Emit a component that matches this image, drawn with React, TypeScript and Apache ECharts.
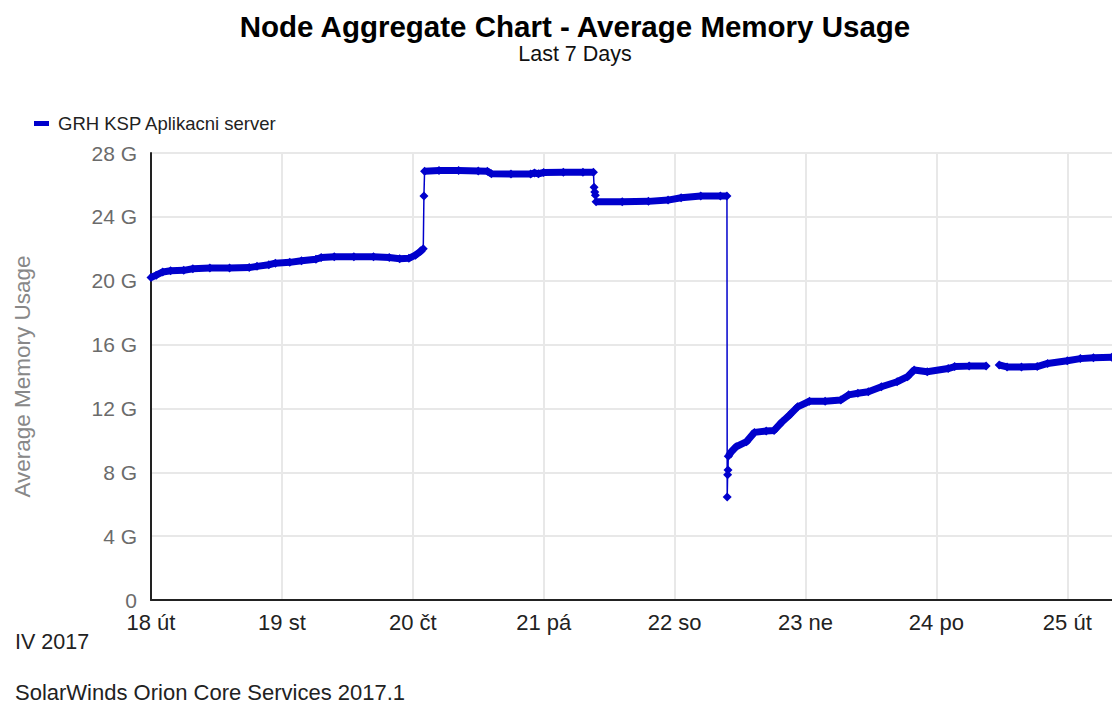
import React, { useEffect, useRef } from "react";
import * as echarts from "echarts";

// ---- data ----
const seriesName = "GRH KSP Aplikacni server";
const dayNumbers = [18, 19, 20, 21, 22, 23, 24, 25];
const dayNames = ["út", "st", "čt", "pá", "so", "ne", "po", "út"];
const yTickLabelsUnit = " G";

// continuous stretches of [day, GB]
const seg1: [number, number][] = [
  [18.0, 20.2], [18.04, 20.35], [18.09, 20.55], [18.15, 20.62], [18.25, 20.65],
  [18.32, 20.75], [18.45, 20.8], [18.6, 20.8], [18.75, 20.82], [18.81, 20.9],
  [18.9, 21.0], [18.95, 21.1], [19.06, 21.15], [19.15, 21.25], [19.26, 21.35],
  [19.3, 21.45], [19.4, 21.5], [19.55, 21.5], [19.7, 21.5], [19.82, 21.45],
  [19.9, 21.38], [19.97, 21.4], [20.02, 21.6], [20.06, 21.85], [20.08, 22.0],
];
const jump1: [number, number][] = [[20.085, 25.3]];
const seg2: [number, number][] = [
  [20.09, 26.85], [20.2, 26.9], [20.35, 26.9], [20.5, 26.88], [20.57, 26.85],
  [20.6, 26.7], [20.75, 26.68], [20.9, 26.68], [20.93, 26.75], [20.96, 26.7],
  [21.0, 26.78], [21.15, 26.8], [21.3, 26.8], [21.38, 26.8],
];
const jump2: [number, number][] = [[21.385, 25.85], [21.39, 25.55], [21.395, 25.35]];
const seg3: [number, number][] = [
  [21.4, 24.95], [21.6, 24.95], [21.8, 24.97], [21.95, 25.05], [22.05, 25.2],
  [22.2, 25.3], [22.35, 25.3], [22.4, 25.3],
];
const jump3: [number, number][] = [[22.402, 6.45], [22.405, 7.85], [22.408, 8.15]];
const seg4: [number, number][] = [
  [22.41, 9.0], [22.435, 9.3], [22.47, 9.6], [22.55, 9.92], [22.61, 10.5],
  [22.7, 10.58], [22.76, 10.62], [22.82, 11.15], [22.88, 11.6], [22.94, 12.1],
  [23.03, 12.45], [23.15, 12.45], [23.27, 12.53], [23.33, 12.85], [23.4, 12.95],
  [23.48, 13.05], [23.58, 13.36], [23.7, 13.67], [23.78, 13.99], [23.83, 14.41],
  [23.93, 14.3], [24.09, 14.5], [24.14, 14.62], [24.25, 14.65], [24.38, 14.66],
];
const gapDay = 24.43;
const seg5: [number, number][] = [
  [24.48, 14.72], [24.54, 14.6], [24.65, 14.6], [24.77, 14.62], [24.85, 14.82],
  [25.0, 14.99], [25.1, 15.12], [25.2, 15.18], [25.34, 15.2],
];

const GAP: any = "-";

export default function App() {
  const ref = useRef<HTMLDivElement>(null);
  useEffect(() => {
    if (!ref.current) return;
    const chart = echarts.init(ref.current, undefined, { renderer: "svg" });
    const blue = "#0000cc";
    const font = "'Liberation Sans', Arial, sans-serif";

    const thickData: any[] = [
      ...seg1, [20.085, GAP], ...seg2, [21.39, GAP], ...seg3, [22.405, GAP], ...seg4, [gapDay, GAP], ...seg5,
    ];
    const thinData: any[] = [
      ...seg1, ...jump1, ...seg2, ...jump2, ...seg3, ...jump3, ...seg4, [gapDay, GAP], ...seg5,
    ];

    chart.setOption({
      animation: false,
      backgroundColor: "#ffffff",
      textStyle: { fontFamily: font },
      graphic: [
        {
          type: "text", x: 575, y: 26.5,
          style: { text: "Node Aggregate Chart - Average Memory Usage", fill: "#000", font: `bold 29.5px ${font}`, textAlign: "center", textVerticalAlign: "middle" },
        },
        {
          type: "text", x: 575, y: 53.5,
          style: { text: "Last 7 Days", fill: "#111", font: `21.5px ${font}`, textAlign: "center", textVerticalAlign: "middle" },
        },
        {
          type: "text", x: 15, y: 642,
          style: { text: "IV 2017", fill: "#222", font: `21.5px ${font}`, textAlign: "left", textVerticalAlign: "middle" },
        },
        {
          type: "text", x: 15, y: 692,
          style: { text: "SolarWinds Orion Core Services 2017.1", fill: "#222", font: `22px ${font}`, textAlign: "left", textVerticalAlign: "middle" },
        },
      ],
      legend: {
        data: [seriesName],
        left: 29,
        top: 109,
        icon: "rect",
        itemWidth: 15,
        itemHeight: 5,
        textStyle: { fontSize: 18.5, color: "#222", fontFamily: font, padding: [0, 0, 0, 4] },
      },
      grid: { left: 151, right: 0, top: 153, bottom: 103, containLabel: false },
      xAxis: {
        type: "value",
        min: 18,
        max: 25.418,
        interval: 1,
        axisLine: { show: true, onZero: false, lineStyle: { color: "#222", width: 2 } },
        axisTick: { show: false },
        axisLabel: {
          fontSize: 22, lineHeight: 18, color: "#222", margin: 13, fontFamily: font,
          formatter: (v: number) => {
            const i = dayNumbers.indexOf(v);
            return i >= 0 ? `${dayNumbers[i]} ${dayNames[i]}` : "";
          },
        },
        splitLine: { show: true, lineStyle: { color: "#e8e8e8", width: 2 } },
      },
      yAxis: {
        type: "value",
        min: 0,
        max: 28,
        interval: 4,
        name: "Average Memory Usage",
        nameLocation: "middle",
        nameGap: 117,
        nameTextStyle: { fontSize: 22.5, color: "#888", fontFamily: font },
        axisLine: { show: true, lineStyle: { color: "#222", width: 2 } },
        axisTick: { show: false },
        axisLabel: {
          fontSize: 21, lineHeight: 18, color: "#6b6b6b", margin: 14, fontFamily: font,
          formatter: (v: number) => (v === 0 ? "0" : `${v}${yTickLabelsUnit}`),
        },
        splitLine: { show: true, lineStyle: { color: "#e8e8e8", width: 2 } },
      },
      series: [
        {
          name: seriesName,
          type: "line",
          data: thickData,
          showSymbol: false,
          symbol: "none",
          connectNulls: false,
          lineStyle: { color: blue, width: 7 },
          itemStyle: { color: blue },
          z: 3,
        },
        {
          name: seriesName,
          type: "line",
          data: thinData,
          symbol: "diamond",
          symbolSize: 9,
          showSymbol: true,
          showAllSymbol: true,
          connectNulls: false,
          lineStyle: { color: blue, width: 1.5 },
          itemStyle: { color: blue },
          z: 4,
        },
      ],
    });
    return () => chart.dispose();
  }, []);
  return <div ref={ref} style={{ position: "fixed", left: 0, top: 0, width: 1125, height: 703 }} />;
}
